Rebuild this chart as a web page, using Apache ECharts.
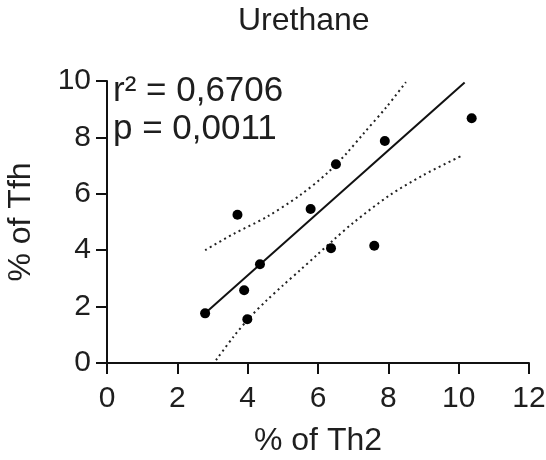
<!DOCTYPE html>
<html>
<head>
<meta charset="utf-8">
<script src="https://cdn.jsdelivr.net/npm/echarts@6/dist/echarts.min.js"></script>
<style>
html,body{margin:0;padding:0;background:#fff;}
#chart{width:546px;height:460px;}
</style>
</head>
<body>
<div id="chart"></div>
<script>
// Data
var chartTitle = 'Urethane';
var xName = '% of Th2';
var yName = '% of Tfh';
var statLines = ['r\u00B2 = 0,6706', 'p = 0,0011'];

var th2 = [2.79, 3.71, 3.90, 3.99, 4.35, 5.79, 6.37, 6.51, 7.60, 7.90, 10.37];
var tfh = [1.76, 5.26, 2.58, 1.55, 3.50, 5.46, 4.07, 7.05, 4.16, 7.87, 8.68];

// regression line end points
var fitX = [2.79, 10.17];
var fitY = [1.76, 9.95];

// 95% confidence band
var upperX = [2.79, 3.59, 4.54, 5.49, 6.25, 6.81, 7.29, 7.95, 8.50];
var upperY = [4.00, 4.57, 5.18, 5.95, 6.72, 7.43, 8.13, 9.08, 9.96];
var lowerX = [3.10, 3.59, 4.07, 4.54, 5.01, 5.49, 5.96, 6.43, 7.00, 8.04, 8.99, 10.12];
var lowerY = [0.10, 0.92, 1.63, 2.22, 2.76, 3.29, 3.82, 4.35, 4.97, 5.95, 6.66, 7.37];

var xTicks = {min: 0, max: 12, interval: 2};
var yTicks = {min: 0, max: 10, interval: 2};

function pairs(xs, ys) { return xs.map(function (x, i) { return [x, ys[i]]; }); }

var FONT = 'Liberation Sans, Arial, sans-serif';
var TXT = '#1e1e1e';

var chart = echarts.init(document.getElementById('chart'));
var axisCommon = {
  type: 'value',
  splitLine: {show: false},
  axisLine: {show: true, onZero: false, lineStyle: {color: '#111', width: 2}},
  axisTick: {show: true, inside: false, length: 11, lineStyle: {color: '#111', width: 2}},
  nameLocation: 'middle',
  nameTextStyle: {fontFamily: FONT, fontSize: 32, color: TXT}
};
chart.setOption({
  animation: false,
  backgroundColor: '#fff',
  title: {
    text: chartTitle, left: 238, top: 5, padding: 0,
    textStyle: {fontFamily: FONT, fontSize: 32, fontWeight: 'normal', color: TXT}
  },
  grid: {left: 107, right: 17, top: 81, bottom: 97, outerBoundsMode: 'none', containLabel: false},
  xAxis: Object.assign({}, axisCommon, {
    min: xTicks.min, max: xTicks.max, interval: xTicks.interval,
    name: xName, nameGap: 62,
    axisLabel: {fontFamily: FONT, fontSize: 30, color: TXT, margin: 21}
  }),
  yAxis: Object.assign({}, axisCommon, {
    min: yTicks.min, max: yTicks.max, interval: yTicks.interval,
    name: yName, nameGap: 70,
    axisLabel: {fontFamily: FONT, fontSize: 30, color: TXT, margin: 16}
  }),
  graphic: statLines.map(function (t, i) {
    return {
      type: 'text', left: 113, top: 74 + i * 38,
      style: {text: t, fontFamily: FONT, fontSize: 35, fill: TXT}
    };
  }),
  series: [
    {
      type: 'line', data: pairs(upperX, upperY), showSymbol: false, smooth: 0.3,
      lineStyle: {color: '#222', width: 2, type: [2, 3.5]}, z: 1
    },
    {
      type: 'line', data: pairs(lowerX, lowerY), showSymbol: false, smooth: 0.3,
      lineStyle: {color: '#222', width: 2, type: [2, 3.5]}, z: 1
    },
    {
      type: 'line', data: pairs(fitX, fitY), showSymbol: false,
      lineStyle: {color: '#111', width: 2}, z: 2
    },
    {
      type: 'scatter', data: pairs(th2, tfh), symbolSize: 10,
      itemStyle: {color: '#000', opacity: 1}, z: 3
    }
  ]
});
</script>
</body>
</html>
